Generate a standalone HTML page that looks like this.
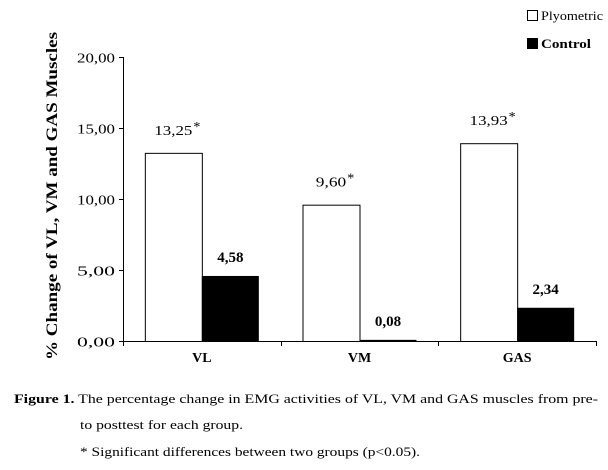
<!DOCTYPE html>
<html><head><meta charset="utf-8"><style>
body{margin:0;background:#fff;width:608px;height:470px;overflow:hidden;font-family:"Liberation Serif",serif;}
svg{display:block}
</style></head><body>
<svg width="608" height="470">
<g id="plot"></g>
<text x="57" y="196" transform="rotate(-90 57 196)" text-anchor="middle" font-size="16" font-weight="bold" textLength="328" lengthAdjust="spacingAndGlyphs">% Change of VL, VM and GAS Muscles</text>
<g>
<rect x="527.5" y="10.5" width="10" height="10" fill="#fff" stroke="#000"/>
<text x="541" y="20" font-size="13" textLength="62" lengthAdjust="spacingAndGlyphs">Plyometric</text>
<rect x="527" y="38" width="11" height="11" fill="#000"/>
<text x="541" y="48" font-size="13" font-weight="bold" textLength="50" lengthAdjust="spacingAndGlyphs">Control</text>
</g>
<g font-size="13">
<text x="14" y="403" textLength="584" lengthAdjust="spacingAndGlyphs"><tspan font-weight="bold">Figure 1.</tspan> The percentage change in EMG activities of VL, VM and GAS muscles from pre-</text>
<text x="80" y="429" textLength="163" lengthAdjust="spacingAndGlyphs">to posttest for each group.</text>
<text x="80" y="456" textLength="340" lengthAdjust="spacingAndGlyphs">* Significant differences between two groups (p&lt;0.05).</text>
</g>
</svg>
<script>
const categories=["VL","VM","GAS"];
const plyometric=[13.25,9.60,13.93];
const control=[4.58,0.08,2.34];
const yTicks=[0,5,10,15,20];
const plyoLabels=["13,25","9,60","13,93"];
const controlLabels=["4,58","0,08","2,34"];
const NS="http://www.w3.org/2000/svg";
const g=document.getElementById('plot');
const x0=123,x1=596,yb=341,yt=57,ymax=20;
const y=v=>yb-(v/ymax)*(yb-yt);
const bw=(x1-x0)/categories.length;
const barW=57;
function mk(t,a){const e=document.createElementNS(NS,t);for(const k in a)e.setAttribute(k,a[k]);g.appendChild(e);return e;}
let e=mk('line',{x1:x0+.5,y1:yt,x2:x0+.5,y2:yb,stroke:'#000'});


e=mk('line',{x1:x0,y1:yb+.5,x2:x1,y2:yb+.5,stroke:'#000'});


yTicks.forEach(v=>{
 const yy=Math.round(y(v))+.5;
 let t=mk('line',{x1:x0-4,y1:yy,x2:x0,y2:yy,stroke:'#000'});
 
 
 let l=mk('text',{x:x0-8,y:yy+5,'text-anchor':'end','font-size':14,textLength:38,lengthAdjust:'spacingAndGlyphs'});
 l.textContent=v.toFixed(2).replace('.',',');
 
 
});
for(let i=0;i<=categories.length;i++){
 const xx=Math.round(x0+i*bw)+.5;
 let t=mk('line',{x1:xx,y1:yb,x2:xx,y2:yb+5,stroke:'#000'});
 
 
}
categories.forEach((c,i)=>{
 const cx=x0+(i+.5)*bw;
 let l=mk('text',{x:cx,y:yb+21,'text-anchor':'middle','font-size':14,'font-weight':'bold'});
 l.textContent=c;
 
 
 const py=y(plyometric[i]);
 let b=mk('rect',{x:cx-barW+.5,y:py+.5,width:barW,height:yb-py,fill:'#fff',stroke:'#000'});
 
 
 const cy=y(control[i]);
 let b2=mk('rect',{x:cx,y:cy,width:barW,height:Math.max(yb-cy,1.5),fill:'#000'});
 
 
 const lw=plyoLabels[i].length*7.6;
 let pl=mk('text',{x:cx-barW/2,y:py-18,'text-anchor':'middle','font-size':14,textLength:lw,lengthAdjust:'spacingAndGlyphs'});
 pl.textContent=plyoLabels[i];
 
 
 let st=mk('text',{x:cx-barW/2+lw/2+1,y:py-22,'font-size':14});
 st.textContent='*';
 
 
 let ct=mk('text',{x:cx+barW/2,y:Math.min(cy-14,yb-14),'text-anchor':'middle','font-size':15,'font-weight':'bold'});
 ct.textContent=controlLabels[i];
 
 
});
</script>
</body></html>
